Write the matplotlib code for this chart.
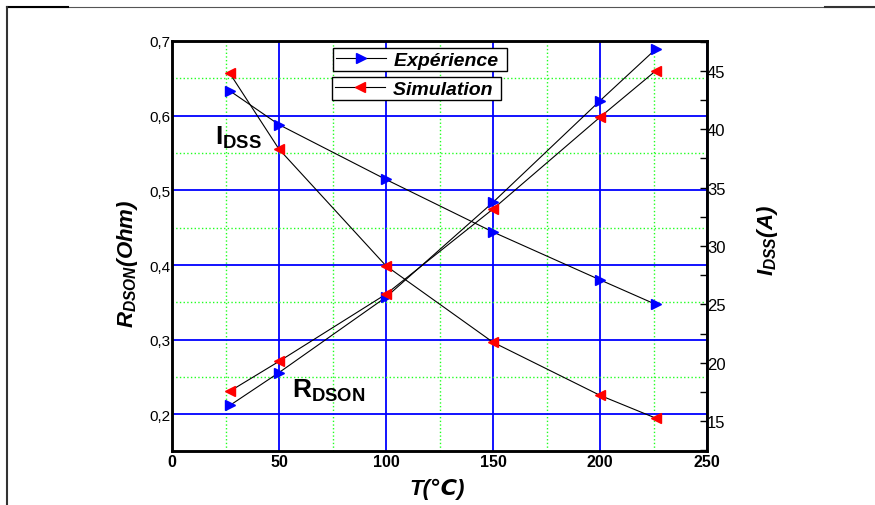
import matplotlib
matplotlib.use("Agg")
import matplotlib.pyplot as plt
from matplotlib.lines import Line2D
from matplotlib.ticker import MultipleLocator, FuncFormatter

plt.rcParams['font.family'] = ['Liberation Sans', 'DejaVu Sans']
plt.rcParams['mathtext.fontset'] = 'custom'
plt.rcParams['mathtext.it'] = 'Liberation Sans:italic:bold'
plt.rcParams['mathtext.rm'] = 'Liberation Sans:bold'
plt.rcParams['mathtext.bf'] = 'Liberation Sans:bold'

# temperatures (deg C)
temp = [27, 50, 100, 150, 200, 226]

# R_DSON (Ohm), left axis
rdson_exp = [0.212, 0.256, 0.357, 0.484, 0.620, 0.689]
rdson_sim = [0.231, 0.271, 0.361, 0.475, 0.598, 0.660]

# I_DSS (A), right axis
idss_exp = [43.3, 40.4, 35.7, 31.2, 27.1, 25.0]
idss_sim = [44.8, 38.3, 28.3, 21.75, 17.2, 15.25]

fig = plt.figure(figsize=(8.75, 5.06), dpi=100)
ax = fig.add_axes([172/875, 1-452/506, 535/875, 410/506])
ax2 = ax.twinx()

ms = 7
# left axis: R_DSON
ax.plot(temp, rdson_exp, color='black', lw=0.8, zorder=3)
ax.plot(temp, rdson_exp, ls='none', marker='>', ms=ms, color='blue', zorder=4)
ax.plot(temp, rdson_sim, color='black', lw=0.8, zorder=3)
ax.plot(temp, rdson_sim, ls='none', marker='<', ms=ms, color='red', zorder=4)

# right axis: I_DSS
ax2.plot(temp, idss_exp, color='black', lw=0.8, zorder=3)
ax2.plot(temp, idss_exp, ls='none', marker='>', ms=ms, color='blue', zorder=4)
ax2.plot(temp, idss_sim, color='black', lw=0.8, zorder=3)
ax2.plot(temp, idss_sim, ls='none', marker='<', ms=ms, color='red', zorder=4)

ax.set_xlim(0, 250)
ax.set_ylim(0.151, 0.7)
ax2.set_ylim(12.43, 47.57)

ax.xaxis.set_major_locator(MultipleLocator(50))
ax.xaxis.set_minor_locator(MultipleLocator(25))
ax.yaxis.set_major_locator(MultipleLocator(0.1))
ax.yaxis.set_minor_locator(MultipleLocator(0.05))
ax2.yaxis.set_major_locator(MultipleLocator(5))
ax2.yaxis.set_minor_locator(MultipleLocator(2.5))

ax.yaxis.set_major_formatter(FuncFormatter(lambda v, p: ('%.1f' % v).replace('.', ',')))
ax.yaxis.set_minor_formatter(FuncFormatter(lambda v, p: ''))

ax.grid(which='major', color='blue', lw=1.3, ls='-')
ax.grid(which='minor', color='#22ff22', lw=1.0, ls=':')
ax.set_axisbelow(True)

ax.tick_params(axis='y', which='both', length=0, pad=1, labelsize=11)
ax.tick_params(axis='x', which='both', length=0, pad=2, labelsize=11.5)
for t in ax.get_xticklabels():
    t.set_fontweight('bold')
ax2.tick_params(axis='y', which='major', direction='in', length=5, width=1, pad=0, labelsize=12)
ax2.tick_params(axis='y', which='minor', direction='in', length=5, width=1)

for sp in ax.spines.values():
    sp.set_linewidth(1.8)
for sp in ax2.spines.values():
    sp.set_linewidth(1.8)

ax.set_xlabel('T(℃)', fontsize=16, fontweight='bold', fontstyle='italic')
ax.xaxis.set_label_coords(0.495, -0.065)
ax.set_ylabel(r'$R_{DSON}$(Ohm)', fontsize=16, fontweight='bold', fontstyle='italic')
ax.yaxis.set_label_coords(-0.06, 0.46)
ax2.set_ylabel(r'$I_{DSS}$(A)', fontsize=16, fontweight='bold', fontstyle='italic')
ax2.yaxis.set_label_coords(1.09, 0.515)

# curve annotations
ax.text(20, 0.562, r'$\mathrm{I}_{\mathrm{DSS}}$', fontsize=19, va='baseline')
ax.text(56, 0.223, r'$\mathrm{R}_{\mathrm{DSON}}$', fontsize=19, va='baseline')

# two separate legend boxes
h_exp = Line2D([], [], color='black', lw=0.8, marker='>', ms=ms, mfc='blue', mec='blue')
h_sim = Line2D([], [], color='black', lw=0.8, marker='<', ms=ms, mfc='red', mec='red')
leg_kw = dict(loc='upper left', bbox_transform=fig.transFigure, borderaxespad=0,
              fancybox=False, framealpha=1, edgecolor='black', numpoints=1,
              handlelength=2.6, borderpad=0.15, handletextpad=0.4,
              prop={'weight': 'bold', 'style': 'italic', 'size': 14})
leg1 = ax2.legend([h_exp], ['Expérience '], bbox_to_anchor=(333/875, 1-49/506), **leg_kw)
ax2.add_artist(leg1)
leg2 = ax2.legend([h_sim], ['Simulation '], bbox_to_anchor=(332/875, 1-78/506), **leg_kw)
for lg in (leg1, leg2):
    lg.get_frame().set_linewidth(1.0)
    lg.set_zorder(10)

# page frame lines
fig.add_artist(Line2D([7/875, 1], [1-8/506, 1-8/506], color='#555555', lw=0.8))
fig.add_artist(Line2D([7/875, 68/875], [1-8/506, 1-8/506], color='black', lw=1.5))
fig.add_artist(Line2D([825/875, 1], [1-8/506, 1-8/506], color='#333333', lw=1.5))
fig.add_artist(Line2D([7/875, 7/875], [0, 1-8/506], color='#333333', lw=1.5))

fig.savefig('out.png', dpi=100)
